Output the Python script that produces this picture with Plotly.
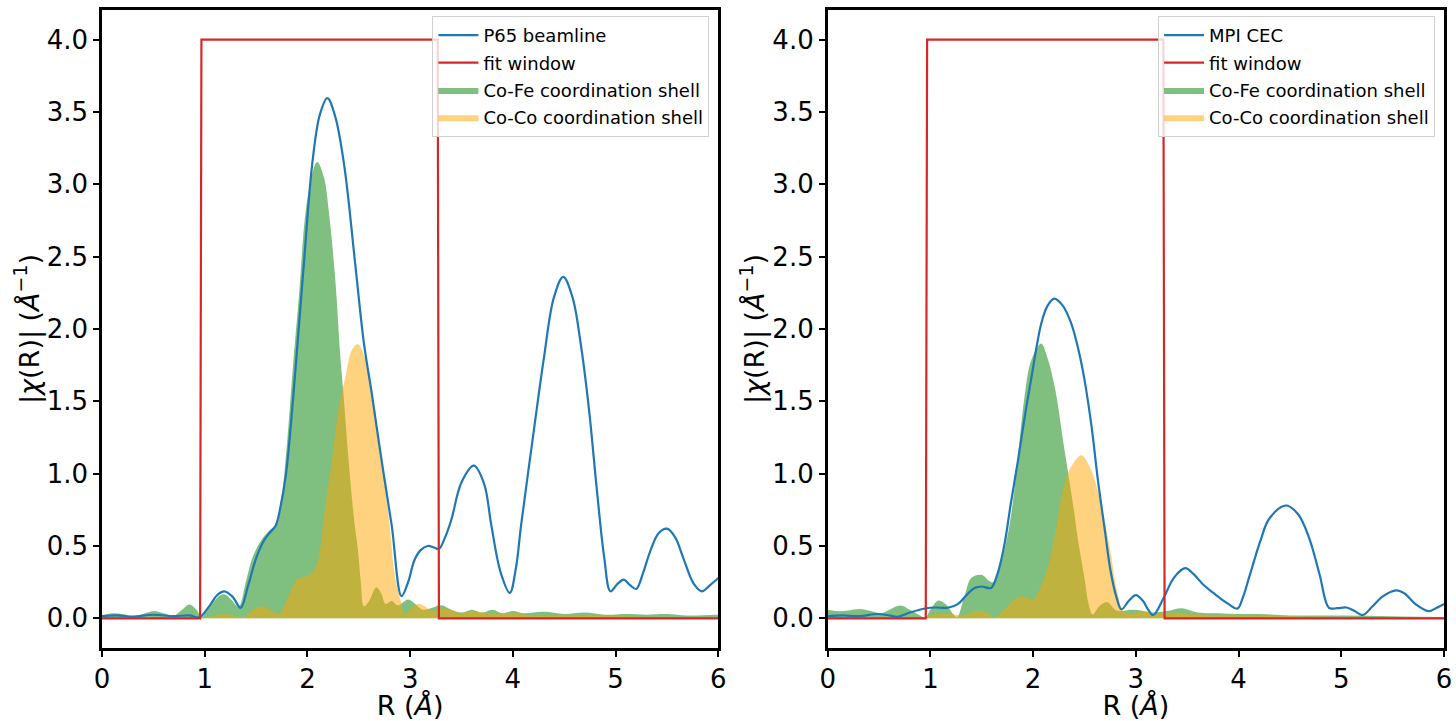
import plotly.graph_objects as go

# ---------------- data: left panel (P65 beamline) ----------------
p65_r = [0, 0.15, 0.3, 0.5, 0.7, 0.85, 0.95, 1.05, 1.12, 1.19, 1.27, 1.35, 1.42, 1.50, 1.57, 1.63, 1.69,
         1.74, 1.79, 1.84, 1.89, 1.965, 2.045, 2.12, 2.194, 2.27, 2.358, 2.465, 2.55, 2.626, 2.72, 2.82,
         2.916, 2.98, 3.04, 3.10, 3.17, 3.23, 3.28, 3.34, 3.40, 3.50, 3.62, 3.72, 3.79, 3.88, 3.97,
         4.03, 4.08, 4.21, 4.30, 4.40, 4.49, 4.58, 4.66, 4.74, 4.82, 4.89, 4.95, 5.02, 5.08, 5.14, 5.20,
         5.27, 5.335, 5.42, 5.50, 5.58, 5.66, 5.76, 5.84, 5.92, 6.0]
p65_chi = [0.016, 0.02, 0.012, 0.025, 0.015, 0.02, 0.008, 0.09, 0.16, 0.187, 0.15, 0.073, 0.22, 0.415, 0.53,
           0.59, 0.64, 0.78, 0.99, 1.35, 1.78, 2.45, 3.13, 3.48, 3.596, 3.47, 3.13, 2.45, 1.9, 1.556, 1.10,
           0.644, 0.153, 0.25, 0.40, 0.47, 0.50, 0.49, 0.48, 0.56, 0.68, 0.94, 1.055, 0.93, 0.644,
           0.32, 0.176, 0.35, 0.644, 1.33, 1.79, 2.22, 2.36, 2.22, 1.90, 1.45, 0.87, 0.415, 0.187, 0.24,
           0.267, 0.23, 0.203, 0.32, 0.46, 0.59, 0.62, 0.56, 0.415, 0.24, 0.187, 0.23, 0.279]

p65_cofe_r = [0, 0.1, 0.2, 0.3, 0.4, 0.5, 0.6, 0.7, 0.78, 0.85, 0.92, 0.97, 1.05, 1.15, 1.2, 1.27, 1.33,
              1.40, 1.465, 1.55, 1.62, 1.69, 1.75, 1.80, 1.86, 1.916, 2.0, 2.094, 2.16, 2.21, 2.27,
              2.32, 2.35, 2.40, 2.45, 2.49, 2.52, 2.55, 2.60, 2.67, 2.72, 2.76, 2.82, 2.88, 2.93, 2.98,
              3.05, 3.12, 3.2, 3.3, 3.4, 3.5, 3.6, 3.7, 3.8, 3.9, 4.0, 4.1, 4.3, 4.5, 4.7, 4.9, 5.1, 5.3,
              5.5, 5.7, 6.0]
p65_cofe = [0.02, 0.035, 0.03, 0.015, 0.03, 0.05, 0.035, 0.02, 0.06, 0.096, 0.06, 0.01, 0.08, 0.16, 0.165,
            0.12, 0.08, 0.25, 0.42, 0.54, 0.6, 0.65, 0.85, 1.2, 1.75, 2.22, 2.90, 3.155, 3.05, 2.80,
            2.35, 1.81, 1.56, 1.10, 0.71, 0.48, 0.25, 0.084, 0.12, 0.215, 0.17, 0.10, 0.12, 0.09, 0.11,
            0.13, 0.10, 0.06, 0.07, 0.09, 0.06, 0.04, 0.06, 0.04, 0.06, 0.035, 0.05, 0.035, 0.045, 0.03,
            0.04, 0.025, 0.03, 0.025, 0.03, 0.02, 0.025]

p65_coco_r = [0, 0.3, 0.6, 0.9, 1.0, 1.1, 1.2, 1.3, 1.38, 1.47, 1.56, 1.64, 1.72, 1.78, 1.835, 1.916, 1.98,
              2.045, 2.08, 2.11, 2.17, 2.24, 2.30, 2.37, 2.43, 2.49, 2.56, 2.63, 2.72, 2.80, 2.85, 2.90,
              2.95, 3.0, 3.08, 3.15, 3.22, 3.3, 3.4, 3.5, 3.6, 3.7, 3.85, 4.0, 4.2, 4.5, 5.0, 5.5, 6.0]
p65_coco = [0.005, 0.01, 0.005, 0.01, 0.005, 0.02, 0.03, 0.015, 0.01, 0.06, 0.084, 0.06, 0.03, 0.10,
            0.187, 0.279, 0.29, 0.313, 0.36, 0.42, 0.76, 1.10, 1.44, 1.67, 1.85, 1.895, 1.80, 1.556, 1.10,
            0.644, 0.30, 0.14, 0.03, 0.06, 0.10, 0.08, 0.05, 0.07, 0.06, 0.035, 0.05, 0.04, 0.03, 0.035,
            0.02, 0.02, 0.015, 0.01, 0.01]

# ---------------- data: right panel (MPI CEC) ----------------
mpi_r = [0, 0.15, 0.3, 0.49, 0.6, 0.68, 0.8, 0.95, 1.05, 1.17, 1.27, 1.35, 1.43, 1.50, 1.59, 1.65, 1.72,
         1.78, 1.85, 1.92, 1.98, 2.08, 2.14, 2.206, 2.29, 2.37, 2.44, 2.50, 2.57, 2.63, 2.70, 2.755, 2.81,
         2.86, 2.93, 3.0, 3.07, 3.12, 3.17, 3.27, 3.37, 3.48, 3.57, 3.66, 3.755, 3.82, 3.90, 3.99, 4.04,
         4.11, 4.21, 4.30, 4.46, 4.58, 4.69, 4.79, 4.88, 4.96, 5.05, 5.13, 5.21, 5.30, 5.40, 5.535, 5.62,
         5.72, 5.85, 5.92, 6.0]
mpi_chi = [0.016, 0.02, 0.015, 0.03, 0.02, 0.01, 0.04, 0.068, 0.075, 0.073, 0.1, 0.16, 0.21, 0.22, 0.21,
           0.3, 0.507, 0.78, 1.08, 1.40, 1.65, 2.04, 2.16, 2.21, 2.16, 2.04, 1.86, 1.65, 1.32, 0.96, 0.60,
           0.324, 0.15, 0.062, 0.12, 0.16, 0.12, 0.06, 0.023, 0.14, 0.28, 0.347, 0.30, 0.23, 0.176, 0.14,
           0.10, 0.068, 0.14, 0.30, 0.53, 0.69, 0.78, 0.72, 0.55, 0.30, 0.073, 0.07, 0.075, 0.05, 0.023,
           0.08, 0.15, 0.194, 0.17, 0.10, 0.05, 0.07, 0.10]

mpi_cofe_r = [0, 0.1, 0.2, 0.32, 0.45, 0.52, 0.6, 0.71, 0.8, 0.9, 0.95, 1.0, 1.08, 1.16, 1.22, 1.26, 1.33,
              1.40, 1.50, 1.57, 1.61, 1.67, 1.73, 1.79, 1.85, 1.916, 1.98, 2.078, 2.14, 2.21, 2.30,
              2.40, 2.43, 2.50, 2.54, 2.58, 2.64, 2.72, 2.80, 2.86, 2.95, 3.05, 3.15, 3.3, 3.45, 3.6, 3.8,
              4.0, 4.2, 4.5, 5.0, 5.5, 6.0]
mpi_cofe = [0.06, 0.05, 0.055, 0.064, 0.045, 0.035, 0.06, 0.089, 0.06, 0.02, 0.005, 0.06, 0.123, 0.09,
            0.03, 0.01, 0.15, 0.28, 0.30, 0.26, 0.25, 0.35, 0.50, 0.735, 1.10, 1.53, 1.78, 1.90, 1.80,
            1.60, 1.19, 0.735, 0.575, 0.28, 0.10, 0.027, 0.08, 0.112, 0.06, 0.05, 0.06, 0.055, 0.04, 0.05,
            0.07, 0.04, 0.035, 0.03, 0.03, 0.02, 0.02, 0.015, 0.01]

mpi_coco_r = [0, 0.3, 0.6, 0.9, 1.05, 1.2, 1.3, 1.46, 1.55, 1.62, 1.70, 1.80, 1.88, 1.95, 2.0, 2.06, 2.14,
              2.21, 2.30, 2.38, 2.47, 2.55, 2.625, 2.69, 2.755, 2.82, 2.88, 2.95, 3.0, 3.1, 3.2, 3.35, 3.5,
              3.7, 4.0, 4.5, 5.0, 6.0]
mpi_coco = [0.01, 0.005, 0.01, 0.005, 0.03, 0.03, 0.02, 0.05, 0.04, 0.005, 0.05, 0.12, 0.153, 0.14, 0.13,
            0.20, 0.347, 0.575, 0.918, 1.06, 1.128, 1.05, 0.895, 0.70, 0.45, 0.18, 0.05, 0.03, 0.04, 0.05,
            0.03, 0.04, 0.03, 0.025, 0.02, 0.015, 0.01, 0.01]

# ---------------- fit window (same for both) ----------------
window_r = [0, 0.955, 0.968, 3.268, 3.28, 6.0]
window_val = [0, 0, 4, 4, 0, 0]

BLUE = "#1f77b4"
RED = "#d62728"
GREEN = "rgba(0,128,0,0.5)"
ORANGE = "rgba(255,165,0,0.5)"
FONT = "DejaVu Sans"
SM = 1.0

fig = go.Figure()


def add_panel(xa, ya, leg, label, r, chi, cofe_r, cofe, coco_r, coco):
    fig.add_trace(go.Scatter(x=cofe_r, y=cofe, mode="lines", fill="tozeroy", fillcolor=GREEN,
                             line=dict(width=0, color=GREEN, shape="spline", smoothing=SM),
                             name="Co-Fe coordination shell", xaxis=xa, yaxis=ya, legend=leg,
                             legendrank=3, legendgroup=leg + "c", hoverinfo="skip"))
    fig.add_trace(go.Scatter(x=coco_r, y=coco, mode="lines", fill="tozeroy", fillcolor=ORANGE,
                             line=dict(width=0, color=ORANGE, shape="spline", smoothing=SM),
                             name="Co-Co coordination shell", xaxis=xa, yaxis=ya, legend=leg,
                             legendrank=4, legendgroup=leg + "d", hoverinfo="skip"))
    fig.add_trace(go.Scatter(x=r, y=chi, mode="lines",
                             line=dict(width=2.2, color=BLUE, shape="spline", smoothing=SM),
                             name=label, xaxis=xa, yaxis=ya, legend=leg, legendrank=1,
                             legendgroup=leg + "a"))
    fig.add_trace(go.Scatter(x=window_r, y=window_val, mode="lines",
                             line=dict(width=2.2, color=RED),
                             name="fit window", xaxis=xa, yaxis=ya, legend=leg, legendrank=2,
                             legendgroup=leg + "b"))


add_panel("x", "y", "legend", "P65 beamline", p65_r, p65_chi, p65_cofe_r, p65_cofe, p65_coco_r, p65_coco)
add_panel("x2", "y2", "legend2", "MPI CEC", mpi_r, mpi_chi, mpi_cofe_r, mpi_cofe, mpi_coco_r, mpi_coco)

W, H = 1456, 721
ml, mr, mt, mb = 102, 4, 10, 67
pw = W - ml - mr
ph = H - mt - mb
d1 = [0, 620 / pw]
d2 = [(832 - ml) / pw, 1.0]

axis_common = dict(showline=True, linecolor="black", linewidth=2.5, mirror=True,
                   ticks="outside", ticklen=6, tickwidth=1.5, tickcolor="black",
                   showgrid=False, zeroline=False,
                   tickfont=dict(family=FONT, size=26, color="black"))

xcommon = dict(axis_common, range=[0, 6], tickmode="array", tickvals=[0, 1, 2, 3, 4, 5, 6],
               title=dict(text="R (<i>Å</i>)", font=dict(family=FONT, size=27, color="black"), standoff=4))
ycommon = dict(axis_common, range=[-0.205, 4.205], tickmode="array",
               tickvals=[0, 0.5, 1, 1.5, 2, 2.5, 3, 3.5, 4], tickformat=".1f",
               title=dict(text="|<i>χ</i>(R)| (<i>Å</i><sup>−1</sup>)",
                          font=dict(family=FONT, size=27, color="black"), standoff=0))

legend_common = dict(xanchor="right", yanchor="top", bgcolor="rgba(255,255,255,0.8)",
                     bordercolor="#d0d0d0", borderwidth=1, tracegroupgap=1,
                     font=dict(family=FONT, size=18, color="black"), itemwidth=40)

fig.update_layout(
    width=W, height=H, autosize=False,
    margin=dict(l=ml, r=mr, t=mt, b=mb),
    paper_bgcolor="white", plot_bgcolor="white",
    font=dict(family=FONT, color="black"),
    xaxis=dict(xcommon, domain=d1, anchor="y"),
    yaxis=dict(ycommon, domain=[0, 1], anchor="x"),
    xaxis2=dict(xcommon, domain=d2, anchor="y2"),
    yaxis2=dict(ycommon, domain=[0, 1], anchor="x2"),
    legend=dict(legend_common, x=(713 - ml) / pw, y=(654 - 16) / ph),
    legend2=dict(legend_common, x=(1443 - ml) / pw, y=(654 - 16) / ph),
    showlegend=True,
)

fig.write_html("out.html")
